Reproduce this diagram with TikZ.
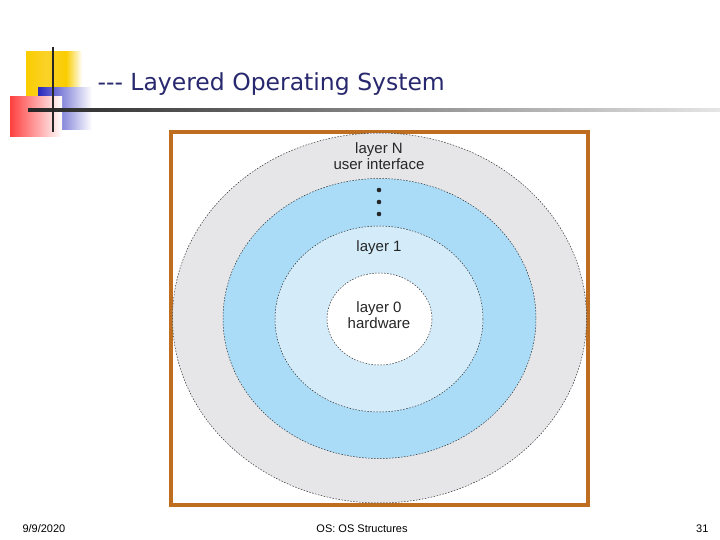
\documentclass[tikz,border=0pt]{standalone}
\usepackage{fontspec}
\setmainfont{Liberation Sans}
\newfontfamily\titlefont{DejaVu Sans}
\begin{document}
\begin{tikzpicture}[x=1pt,y=-1pt,
  ring/.style={draw=black!80,dashed,dash pattern=on 1.5pt off 1.5pt,line width=0.5pt},
  lab/.style={font=\fontsize{15}{16}\selectfont,text=black!85,align=center,inner sep=0}]
\useasboundingbox (0,0) rectangle (720,540);
\fill[white] (0,0) rectangle (720,540);
% logo
\shade[left color={rgb,255:red,250;green,205;blue,0},right color={rgb,255:red,250;green,205;blue,0},middle color={rgb,255:red,250;green,210;blue,40}] (26,52) rectangle (66,96);
\shade[left color={rgb,255:red,250;green,205;blue,0},right color=white] (66,52) rectangle (82,96);
\shade[left color={rgb,255:red,40;green,40;blue,190},right color=white] (38,88) rectangle (92,130);
\shade[left color=red!75,right color=white] (10,97) rectangle (62,137);
\shade[left color=black!85,right color=black!10] (28,109) rectangle (720,112);
\draw[line width=2.5pt,black!85] (53,47) -- (53,132);
\node[font=\titlefont\fontsize{23.5}{26}\selectfont,text={rgb,255:red,40;green,40;blue,110},anchor=west] (title) at (94,84) {--- Layered Operating System};
% diagram
\node[draw={rgb,255:red,190;green,110;blue,30},line width=3.5pt,minimum width=417pt,minimum height=373pt,inner sep=0] (frame) at (379.5,318.5) {};
\filldraw[ring,fill={rgb,255:red,230;green,230;blue,232}] (379.5,318) ellipse (207 and 185);
\filldraw[ring,fill={rgb,255:red,170;green,220;blue,248}] (379.5,318.5) ellipse (156.5 and 140);
\filldraw[ring,fill={rgb,255:red,212;green,236;blue,250}] (379,319) ellipse (104 and 93);
\filldraw[ring,fill=white] (379.5,319) ellipse (52.5 and 46);
\node[lab] (ln) at (379,156) {layer N\\user interface};
\foreach \y/\n in {190/a,202/b,214/c} \fill[black!85] (379,\y) circle (2.3) coordinate (d\n);
\node[lab] (l1) at (379,248) {layer 1};
\node[lab] (l0) at (379,315) {layer 0\\hardware};
% footer
\node[font=\fontsize{11}{12}\selectfont,anchor=west] (date) at (19,529) {9/9/2020};
\node[font=\fontsize{11}{12}\selectfont] (foot) at (362,529) {OS: OS Structures};
\node[font=\fontsize{11}{12}\selectfont,anchor=east] (page) at (712,529) {31};
\end{tikzpicture}
\end{document}
